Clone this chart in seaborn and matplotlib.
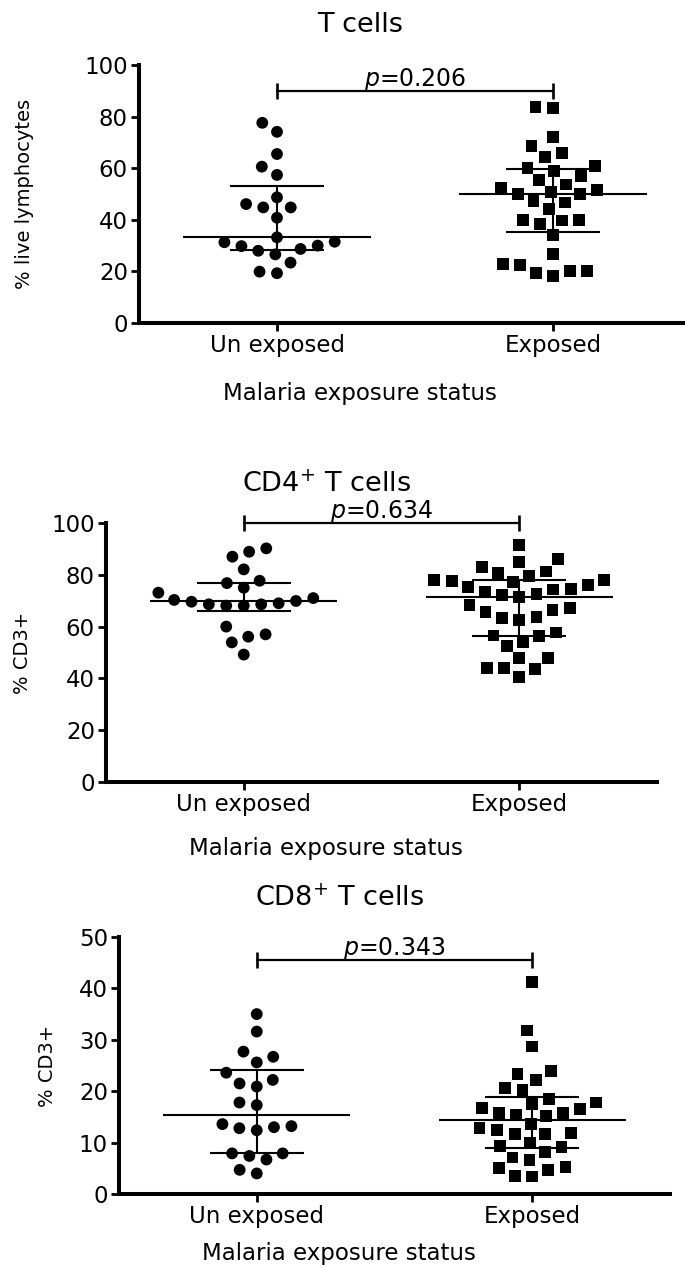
import numpy as np
import pandas as pd
import matplotlib
matplotlib.use("Agg")
import matplotlib.pyplot as plt
import seaborn as sns

# ---------------- data ----------------
groups = ["Un exposed", "Exposed"]

# T cells, % of live lymphocytes
tcell_unexposed = [77.6, 74.1, 65.5, 60.6, 57.4, 48.7, 46.1, 44.8, 44.8, 40.8, 33.2,
                   31.5, 29.8, 28.0, 26.6, 28.7, 30.0, 31.3, 23.4, 19.3, 19.9]
tcell_exposed = [83.2, 83.6, 72.2, 68.5, 66.0, 64.3, 61.0, 60.2, 58.8, 56.9, 55.4,
                 53.7, 52.2, 50.7, 51.5, 49.9, 50.1, 46.7, 47.2, 44.1, 39.7, 39.8,
                 38.4, 39.9, 34.1, 26.8, 22.5, 20.0, 18.3, 19.5, 20.2, 23.0]

# CD4+ T cells, % of CD3+
cd4_unexposed = [90.2, 88.9, 87.0, 82.1, 76.8, 77.7, 75.0, 73.1, 71.0, 69.9, 69.0,
                 68.6, 68.1, 68.1, 68.6, 69.6, 70.3, 60.0, 57.0, 56.1, 53.9, 49.2]
cd4_exposed = [91.5, 86.0, 83.1, 84.8, 80.8, 81.3, 79.5, 78.1, 77.7, 77.3, 76.1,
               78.1, 75.2, 74.3, 74.6, 73.5, 72.5, 72.2, 71.3, 67.1, 68.2, 65.5,
               66.3, 63.2, 62.7, 63.7, 56.6, 54.2, 56.4, 57.7, 52.4, 47.9, 47.9,
               43.9, 43.6, 43.9, 40.6]

# CD8+ T cells, % of CD3+
cd8_unexposed = [35.0, 31.6, 26.7, 27.7, 25.6, 23.6, 22.2, 20.9, 21.5, 17.8, 17.3,
                 13.6, 13.0, 12.4, 12.8, 13.2, 7.9, 6.7, 7.4, 7.9, 4.0, 4.7]
cd8_exposed = [41.2, 31.8, 28.7, 23.3, 23.9, 22.2, 20.7, 20.2, 18.5, 17.5, 16.5,
               16.8, 15.3, 17.8, 15.8, 15.8, 15.2, 13.6, 12.5, 11.7, 11.7, 11.8,
               12.9, 10.0, 9.1, 9.3, 8.2, 7.1, 6.6, 5.2, 4.7, 5.0, 3.4, 3.5]

titles = ["T cells", "CD4$^{+}$ T cells", "CD8$^{+}$ T cells"]
ylabels = ["% live lymphocytes", "% CD3+", "% CD3+"]
xlabel = "Malaria exposure status"
p_values = [0.206, 0.634, 0.343]
y_ticks = [[0, 20, 40, 60, 80, 100],
           [0, 20, 40, 60, 80, 100],
           [0, 10, 20, 30, 40, 50]]

series = [(tcell_unexposed, tcell_exposed),
          (cd4_unexposed, cd4_exposed),
          (cd8_unexposed, cd8_exposed)]

# ---------------- layout (pixels in a 685 x 1268 canvas) ----------------
W, H = 685, 1268
layout = [
    dict(left=139, right=691, top=65, bottom=323, bracket=90.0,
         title_y=1.128, xlabel_y=-0.298, ylabel_x=-0.208),
    dict(left=106, right=657, top=523, bottom=782, bracket=100.0,
         title_y=1.120, xlabel_y=-0.282, ylabel_x=-0.152),
    dict(left=119, right=670, top=937, bottom=1194, bracket=45.5,
         title_y=1.121, xlabel_y=-0.257, ylabel_x=-0.129),
]

sns.set_theme(style="ticks")
plt.rcParams["font.family"] = ["DejaVu Sans"]
plt.rcParams["mathtext.fontset"] = "dejavusans"
plt.rcParams["text.color"] = "black"
plt.rcParams["axes.labelcolor"] = "black"
plt.rcParams["xtick.color"] = "black"
plt.rcParams["ytick.color"] = "black"

fig = plt.figure(figsize=(W / 100, H / 100), dpi=100)
fig.patch.set_facecolor("white")

markers = {"Un exposed": "o", "Exposed": "s"}
marker_sizes = {"Un exposed": 8.5, "Exposed": 8.5}

for (unexp, exp), title, ylab, p, ticks, lay in zip(series, titles, ylabels,
                                                      p_values, y_ticks, layout):
    rect = [lay["left"] / W, 1 - lay["bottom"] / H,
            (lay["right"] - lay["left"]) / W, (lay["bottom"] - lay["top"]) / H]
    ax = fig.add_axes(rect)

    df = pd.DataFrame({
        "group": [groups[0]] * len(unexp) + [groups[1]] * len(exp),
        "value": list(unexp) + list(exp),
    })

    for g in groups:
        sns.swarmplot(data=df[df["group"] == g], x="group", y="value",
                      order=groups, color="black", marker=markers[g],
                      size=marker_sizes[g], linewidth=3.5, edgecolor="none",
                      ax=ax, zorder=3)

    # median with interquartile range
    for xi, g in enumerate(groups):
        vals = df.loc[df["group"] == g, "value"].to_numpy()
        q1, med, q3 = np.percentile(vals, [25, 50, 75], method="weibull")
        kw = dict(color="black", lw=1.5, zorder=4, solid_capstyle="butt")
        ax.plot([xi - 0.34, xi + 0.34], [med, med], **kw)
        ax.plot([xi - 0.17, xi + 0.17], [q1, q1], **kw)
        ax.plot([xi - 0.17, xi + 0.17], [q3, q3], **kw)
        ax.plot([xi, xi], [q1, q3], **kw)

    # significance bracket
    b = lay["bracket"]
    ax.plot([0, 1], [b, b], color="black", lw=1.6, marker="|",
            markersize=11.5, mew=1.9, clip_on=False, zorder=5)
    ax.annotate(f"$\\it{{p}}$={p:.3f}", xy=(0.5, b), xytext=(0, 3.5),
                textcoords="offset points", ha="center", va="baseline",
                fontsize=17, annotation_clip=False)

    ax.set_xlim(-0.5, 1.5)
    ax.set_ylim(ticks[0], ticks[-1])
    ax.set_yticks(ticks)
    ax.set_xticks([0, 1])
    ax.set_xticklabels(groups)

    for side in ("top", "right"):
        ax.spines[side].set_visible(False)
    for side in ("left", "bottom"):
        ax.spines[side].set_linewidth(2.9)
        ax.spines[side].set_color("black")
        ax.spines[side].set_capstyle("projecting")

    ax.tick_params(axis="both", which="major", direction="out", width=2.0,
                   length=6, labelsize=16.5, pad=2, colors="black")
    ax.grid(False)
    ax.set_facecolor("white")

    ax.set_title(title, fontsize=19.5, x=0.40, y=lay["title_y"], pad=0)
    ax.set_xlabel(xlabel, fontsize=16.5, va="baseline")
    ax.xaxis.set_label_coords(0.40, lay["xlabel_y"])
    ax.set_ylabel(ylab, fontsize=14, va="center")
    ax.yaxis.set_label_coords(lay["ylabel_x"], 0.5)

fig.savefig("out.png", dpi=100, facecolor="white")
